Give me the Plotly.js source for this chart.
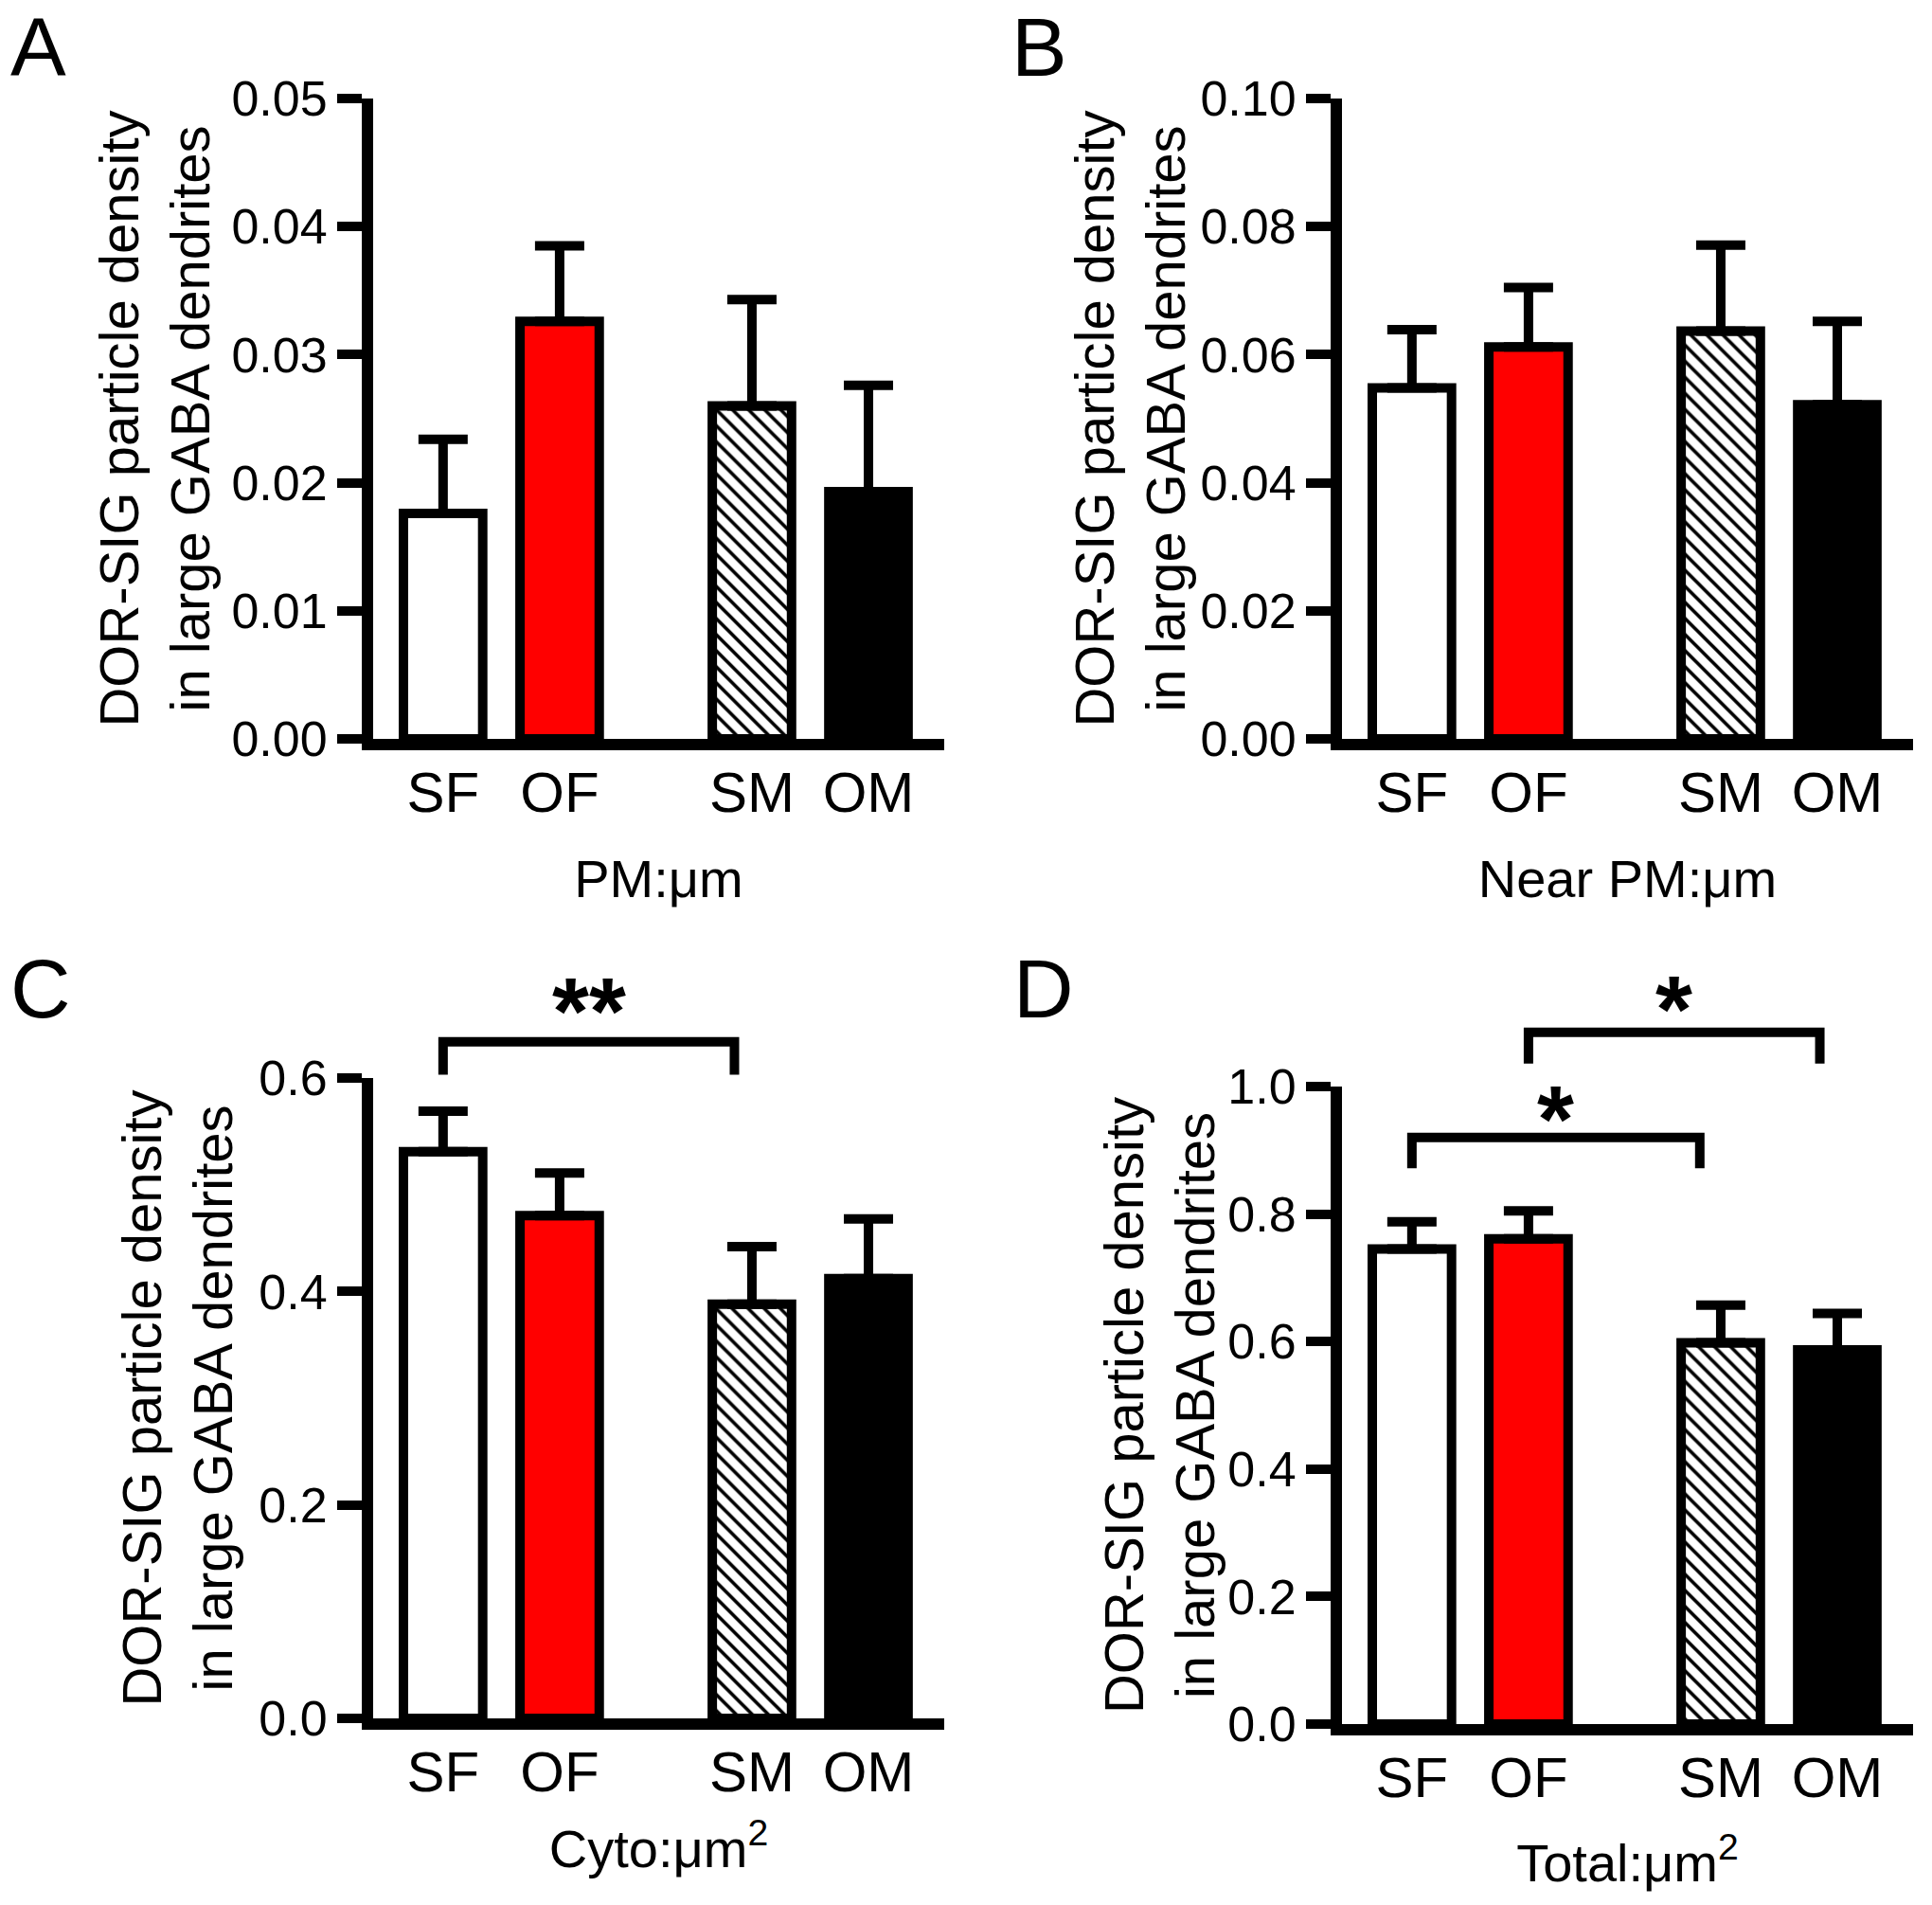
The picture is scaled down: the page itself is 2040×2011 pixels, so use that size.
<!DOCTYPE html>
<html><head><meta charset="utf-8">
<script src="https://cdn.plot.ly/plotly-3.0.1.min.js"></script>
<style>html,body{margin:0;padding:0;background:#fff;}#chart{width:2040px;height:2011px;}</style>
</head><body><div id="chart"></div>
<script>
// ---- data ----
const categories = ['SF', 'OF', 'SM', 'OM'];
const catPos = [1, 2, 3.65, 4.65];
const barColors = ['#ffffff', '#ff0000', '#ffffff', '#000000'];
const barPatterns = ['', '', '\\', ''];

const pmMean = [0.0176, 0.0326, 0.0260, 0.0193];
const pmSem = [0.0058, 0.0059, 0.0083, 0.0083];
const nearPmMean = [0.0548, 0.0612, 0.0637, 0.0522];
const nearPmSem = [0.0091, 0.0093, 0.0134, 0.0130];
const cytoMean = [0.531, 0.471, 0.388, 0.412];
const cytoSem = [0.038, 0.040, 0.054, 0.056];
const totalMean = [0.745, 0.761, 0.598, 0.587];
const totalSem = [0.043, 0.044, 0.059, 0.057];

const ticksPm = [0, 0.01, 0.02, 0.03, 0.04, 0.05];
const ticksNearPm = [0, 0.02, 0.04, 0.06, 0.08, 0.10];
const ticksCyto = [0, 0.2, 0.4, 0.6];
const ticksTotal = [0, 0.2, 0.4, 0.6, 0.8, 1.0];

// significance brackets: [from, to, level, drop, label, labelLevel]
const cytoBrackets = [[1, 3.5, 0.634, 0.603, '**', 0.663]];
const totalBrackets = [[1, 3.47, 0.920, 0.872, '*', 0.950], [2, 4.5, 1.085, 1.036, '*', 1.122]];

const yTitle = 'DOR-SIG particle density<br>in large GABA dendrites';
const FONT = 'Liberation Sans, Arial, Helvetica, sans-serif';

function barTraces(mean, sem, xa, ya) {
  return categories.map((c, i) => {
    const marker = {color: barColors[i], line: {color: '#000', width: 10}};
    if (barPatterns[i]) {
      marker.pattern = {shape: barPatterns[i], fgcolor: '#000', bgcolor: barColors[i],
                        size: 12, solidity: 0.3, fillmode: 'replace'};
    }
    return {
      type: 'bar', name: c, x: [catPos[i]], y: [mean[i]], xaxis: xa, yaxis: ya, width: 0.68,
      marker: marker,
      error_y: {type: 'data', symmetric: false, array: [sem[i]], arrayminus: [0],
                color: '#000', thickness: 10, width: 26},
      showlegend: false, hoverinfo: 'skip'
    };
  });
}

const XR = [0.40, 5.30];
function xAxis(domain, anchor, title, standoff) {
  return {domain: domain, anchor: anchor, range: XR, tickvals: catPos, ticktext: categories,
    ticks: '', showline: true, linewidth: 12, linecolor: '#000', showgrid: false, zeroline: false,
    tickfont: {size: 60, color: '#000', family: FONT}, ticklabelstandoff: -7,
    title: {text: title, font: {size: 56, color: '#000', family: FONT}, standoff: standoff},
    fixedrange: true};
}
function yAxis(domain, anchor, ticks, dec, standoff) {
  return {domain: domain, anchor: anchor, range: [0, ticks[ticks.length - 1]],
    tickvals: ticks, ticktext: ticks.map(v => v.toFixed(dec)),
    ticks: 'outside', ticklen: 26, tickwidth: 10, tickcolor: '#000',
    showline: true, linewidth: 12, linecolor: '#000', showgrid: false, zeroline: false,
    tickfont: {size: 52, color: '#000', family: FONT},
    title: {text: yTitle, font: {size: 58, color: '#000', family: FONT}, standoff: standoff},
    fixedrange: true};
}

const W = 2040, H = 2011;
const xDomL = [394 / W, 997 / W], xDomR = [1417 / W, 2020 / W];
const yDomTop = [1 - 780 / H, 1 - 104 / H];
const yDomC = [1 - 1814 / H, 1 - 1138 / H];
const yDomD = [1 - 1820 / H, 1 - 1147 / H];

const data = [].concat(
  barTraces(pmMean, pmSem, 'x', 'y'),
  barTraces(nearPmMean, nearPmSem, 'x2', 'y2'),
  barTraces(cytoMean, cytoSem, 'x3', 'y3'),
  barTraces(totalMean, totalSem, 'x4', 'y4')
);

const shapes = [], annotations = [];
function addBrackets(list, xa, ya, top) {
  list.forEach(b => {
    const [x1, x2, lvl, drop, label, lblLvl] = b;
    shapes.push({type: 'path', xref: xa, yref: ya + ' domain',
      path: `M ${x1},${drop / top} L ${x1},${lvl / top} L ${x2},${lvl / top} L ${x2},${drop / top}`,
      line: {color: '#000', width: 10}});
    annotations.push({xref: xa, yref: ya + ' domain', x: (x1 + x2) / 2, y: lblLvl / top, text: label,
      showarrow: false, xanchor: 'center', yanchor: 'middle',
      font: {size: 100, color: '#000', family: FONT, weight: 'bold'}});
  });
}
addBrackets(cytoBrackets, 'x3', 'y3', ticksCyto[ticksCyto.length - 1]);
addBrackets(totalBrackets, 'x4', 'y4', ticksTotal[ticksTotal.length - 1]);

[['A', 9, 49], ['B', 1066, 49], ['C', 9, 1043], ['D', 1068, 1043]].forEach(l => {
  annotations.push({xref: 'paper', yref: 'paper', x: l[1] / W, y: 1 - l[2] / H, text: l[0],
    showarrow: false, xanchor: 'left', yanchor: 'middle',
    font: {size: 88, color: '#000', family: FONT}});
});

const layout = {
  width: W, height: H, margin: {l: 0, r: 0, t: 0, b: 0},
  paper_bgcolor: '#fff', plot_bgcolor: 'rgba(0,0,0,0)',
  font: {family: FONT, color: '#000'}, showlegend: false, barmode: 'overlay',
  xaxis: xAxis(xDomL, 'y', 'PM:μm', 44),
  yaxis: yAxis(yDomTop, 'x', ticksPm, 2, 9),
  xaxis2: xAxis(xDomR, 'y2', 'Near PM:μm', 44),
  yaxis2: yAxis(yDomTop, 'x2', ticksNearPm, 2, 2),
  xaxis3: xAxis(xDomL, 'y3', 'Cyto:μm<sup>2</sup>', 34),
  yaxis3: yAxis(yDomC, 'x3', ticksCyto, 1, 14),
  xaxis4: xAxis(xDomR, 'y4', 'Total:μm<sup>2</sup>', 43),
  yaxis4: yAxis(yDomD, 'x4', ticksTotal, 1, 0),
  shapes: shapes, annotations: annotations
};

Plotly.newPlot('chart', data, layout, {staticPlot: true, displayModeBar: false});
</script></body></html>
